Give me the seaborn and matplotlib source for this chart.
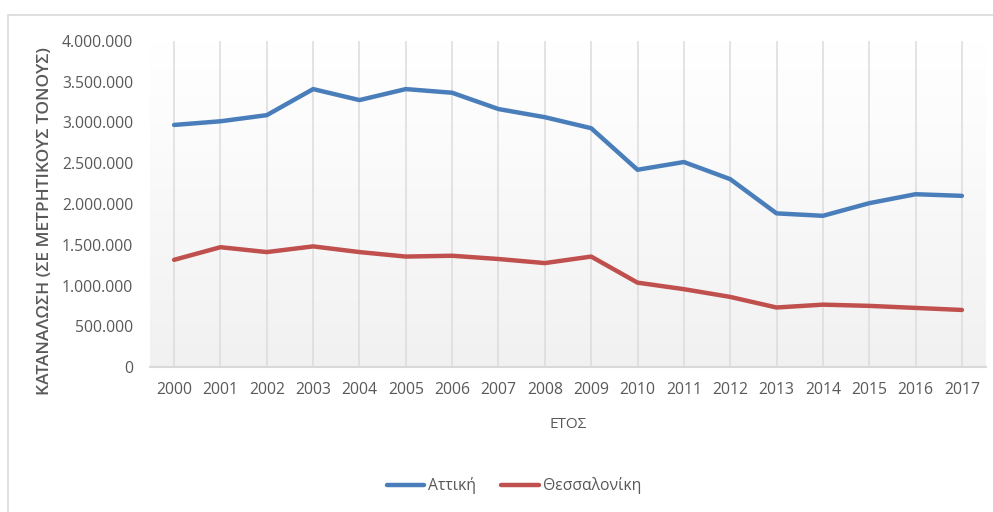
import numpy as np
import pandas as pd
import matplotlib
matplotlib.use("Agg")
import matplotlib.pyplot as plt
from matplotlib.ticker import FuncFormatter, MultipleLocator
from matplotlib.patches import Rectangle
from matplotlib.lines import Line2D
import seaborn as sns

years = list(range(2000, 2018))
attiki = [2970000, 3015000, 3090000, 3410000, 3275000, 3410000, 3365000, 3165000, 3065000,
          2930000, 2420000, 2515000, 2305000, 1885000, 1855000, 2010000, 2120000, 2100000]
thess = [1315000, 1470000, 1410000, 1480000, 1410000, 1355000, 1365000, 1325000, 1275000,
         1355000, 1035000, 955000, 860000, 730000, 765000, 750000, 725000, 700000]
series_names = ["Αττική", "Θεσσαλονίκη"]
colors = ["#4a7ebb", "#c0504d"]

df = pd.DataFrame({
    "year": years * 2,
    "value": attiki + thess,
    "series": [series_names[0]] * len(years) + [series_names[1]] * len(years),
})

sns.set_theme(style="white")
plt.rcParams["font.family"] = ["Open Sans", "DejaVu Sans"]
txt = "#595959"

fig = plt.figure(figsize=(9.93, 5.12), dpi=100)
# outer chart border
fig.patches.append(Rectangle((8 / 993, -0.1), 1.1, 1 - 15 / 512 + 0.1, transform=fig.transFigure,
                             fill=False, edgecolor="#d9d9d9", linewidth=1.2, zorder=0))

ax = fig.add_axes([150 / 993, 1 - 367 / 512, (986 - 150) / 993, (367 - 41) / 512])
# gradient background
grad = np.linspace(0, 1, 256).reshape(-1, 1)
cmap = matplotlib.colors.LinearSegmentedColormap.from_list(
    "g", [(0, "#f1f1f1"), (0.75, "#fcfcfc"), (1, "#ffffff")])
ax.imshow(grad, extent=[0, 1, 0, 1], transform=ax.transAxes, aspect="auto",
          cmap=cmap, origin="lower", zorder=0)

sns.lineplot(data=df, x="year", y="value", hue="series", palette=colors, linewidth=3.2,
             ax=ax, legend=False, zorder=3)

ax.set_xlim(years[0] - 0.52, years[-1] + 0.52)
ax.set_ylim(0, 4000000)
ax.set_xticks(years)
ax.set_xticklabels([str(y) for y in years])
ax.yaxis.set_major_locator(MultipleLocator(500000))
ax.yaxis.set_major_formatter(FuncFormatter(lambda v, p: f"{int(v):,}".replace(",", ".")))
for x in years:
    ax.axvline(x, color="#dcdcdc", linewidth=1.1, zorder=1)
for s in ["top", "right", "left"]:
    ax.spines[s].set_visible(False)
ax.spines["bottom"].set_color("#d9d9d9")
ax.spines["bottom"].set_linewidth(1.5)
ax.tick_params(axis="both", length=0, colors=txt, labelsize=11.3)
ax.tick_params(axis="x", pad=11)
ax.tick_params(axis="y", pad=12)
ax.set_xlabel("")
ax.set_ylabel("")

fig.text(568 / 993, 1 - 425 / 512, "ΕΤΟΣ", ha="center", va="center", color=txt, fontsize=11)
fig.text(45 / 993, 1 - 221 / 512, "ΚΑΤΑΝΑΛΩΣΗ (ΣΕ ΜΕΤΡΗΤΙΚΟΥΣ ΤΟΝΟΥΣ)", rotation=90,
         ha="center", va="center", color=txt, fontsize=12.5, fontweight="semibold")

handles = [Line2D([0], [0], color=c, linewidth=3.2) for c in colors]
fig.legend(handles, series_names, loc="center", bbox_to_anchor=(514 / 993, 1 - 486 / 512),
           ncol=2, frameon=False, fontsize=11.3, labelcolor=txt, handlelength=2.4,
           handletextpad=0.25, columnspacing=1.6)

fig.savefig("out.png", dpi=100)
